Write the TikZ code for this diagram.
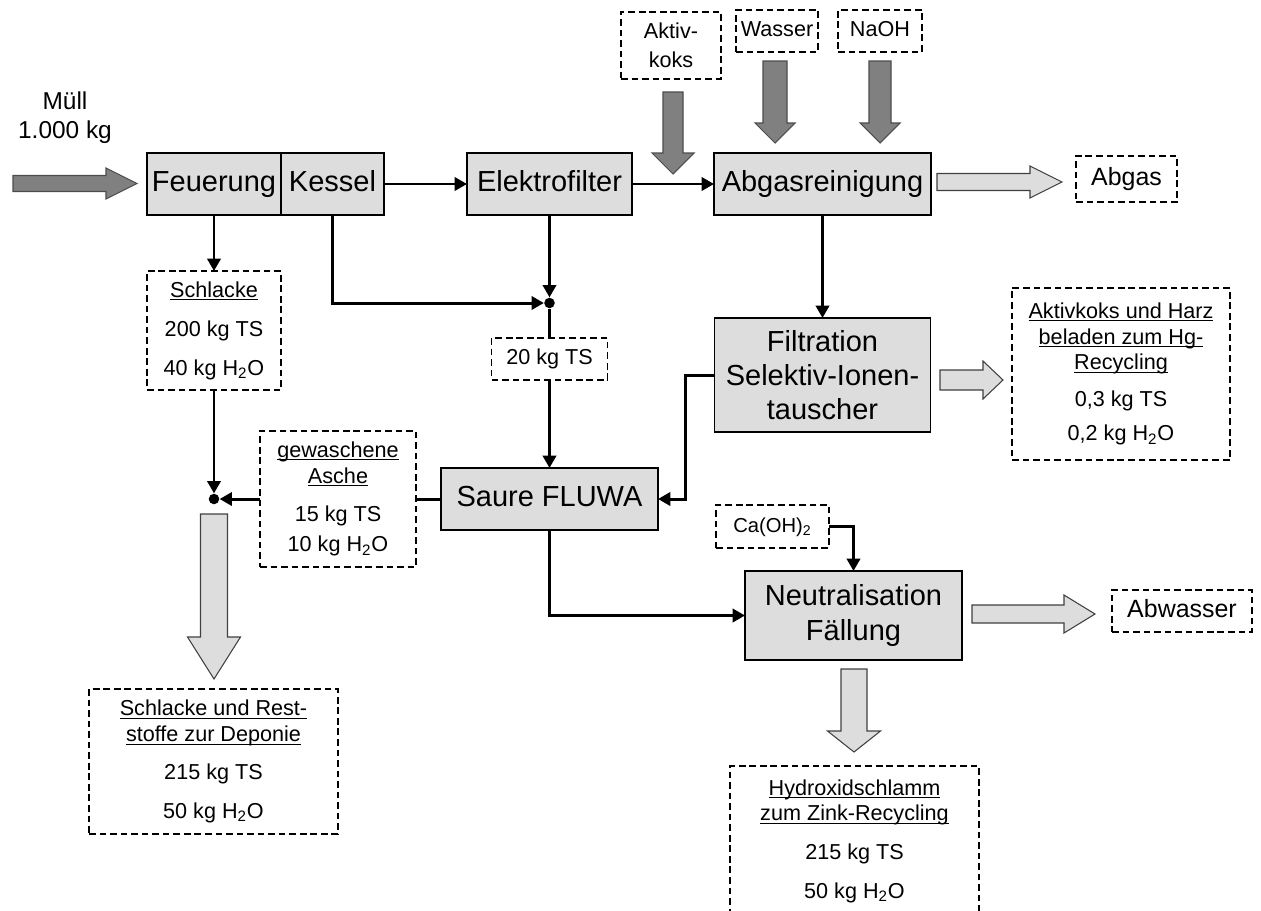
\documentclass[tikz,border=0pt]{standalone}
\usepackage{fontspec}
\setmainfont{Liberation Sans}
\usetikzlibrary{arrows.meta}
\definecolor{boxgray}{HTML}{DDDDDD}
\definecolor{arrowgray}{HTML}{808080}
\newcommand\hzo{H\textsubscript{2}O}
\newcommand\ulin[1]{\underline{\raisebox{0pt}[\height][0pt]{#1}}}
\newcommand\bigfont{\fontsize{16.5}{19.5}\selectfont}
\newcommand\smallfont{\fontsize{12.3}{14.7}\selectfont}
\newcommand\outfont{\fontsize{14.2}{17}\selectfont}
% fat arrows: style, start, head start, tip, axis, shaft half width, head half width
\newcommand\fatright[7]{\draw[#1] (#2,#5-#6) -- (#3,#5-#6) -- (#3,#5-#7) -- (#4,#5) -- (#3,#5+#7) -- (#3,#5+#6) -- (#2,#5+#6) -- cycle;}
\newcommand\fatdown[7]{\draw[#1] (#5-#6,#2) -- (#5-#6,#3) -- (#5-#7,#3) -- (#5,#4) -- (#5+#7,#3) -- (#5+#6,#3) -- (#5+#6,#2) -- cycle;}
\begin{document}
\begin{tikzpicture}[x=0.02cm, y=-0.02cm,
    proc/.style={draw, line width=0.8pt, fill=boxgray, inner sep=0pt, outer sep=0pt,
      align=center, minimum height=62*0.02cm, font=\bigfont},
    dashbox/.style={draw, line width=1.1pt, dash pattern=on 3.8pt off 2.2pt,
      inner sep=0pt, outer sep=0pt, align=center, font=\smallfont},
    bigrow/.style={text height=12pt, text depth=3.5pt},
    smallrow/.style={text height=9pt, text depth=2.6pt},
    outrow/.style={text height=10.4pt, text depth=3pt},
    dot/.style={circle, fill, inner sep=0pt, minimum size=6pt},
    conn/.style={line width=1.7pt, -{Triangle[length=7pt,width=7.5pt]}},
    plain/.style={line width=1.7pt},
    darkfat/.style={fill=arrowgray, draw=black!70, line width=0.6pt},
    lightfat/.style={fill=boxgray, draw=black!75, line width=0.6pt}]

  \useasboundingbox (0,0) rectangle (1261,910);

  \begin{scope}[every node/.style={proc}]
    \node[bigrow, minimum width=134*0.02cm] (feuer)  at (214,184)   {Feuerung};
    \node[bigrow, minimum width=103*0.02cm] (kessel) at (332.5,184) {Kessel};
    \node[bigrow, minimum width=165*0.02cm] (elek)   at (549.5,184) {Elektrofilter};
    \node[bigrow, minimum width=217*0.02cm] (abgasr) at (822.5,184) {Abgasreinigung};
    \node[minimum width=216*0.02cm, minimum height=114*0.02cm] (filt) at (822.5,375) {Filtration\\Selektiv-Ionen-\\tauscher};
    \node[bigrow, minimum width=217*0.02cm] (saure)  at (549.5,499) {Saure FLUWA};
    \node[minimum width=217*0.02cm, minimum height=89*0.02cm] (neut) at (853.5,615.5) {Neutralisation\\Fällung};
  \end{scope}

  \begin{scope}[every node/.style={dashbox}]
    \node[minimum width=100*0.02cm, minimum height=67*0.02cm] (aktiv)  at (671,45.5) {Aktiv-\\[1.7pt]koks};
    \node[smallrow, minimum width=82*0.02cm,  minimum height=42*0.02cm] (wasser) at (777,31)   {Wasser};
    \node[smallrow, minimum width=84*0.02cm,  minimum height=42*0.02cm] (naoh)   at (880,31)   {NaOH};
    \node[outrow, minimum width=101*0.02cm, minimum height=46*0.02cm, font=\outfont] (abgas) at (1126.5,179) {Abgas};
    \node[minimum width=134*0.02cm, minimum height=119*0.02cm] (schlacke) at (214,330.5)
      {\ulin{Schlacke}\\[7.5pt]200 kg TS\\[7.5pt]40 kg \hzo};
    \node[smallrow, minimum width=116*0.02cm, minimum height=42*0.02cm] (ts20) at (549.5,359) {20 kg TS};
    \node[minimum width=156*0.02cm, minimum height=136*0.02cm] (asche) at (338,499)
      {\ulin{gewaschene}\\\ulin{Asche}\\[7pt]15 kg TS\\[2.8pt]10 kg \hzo};
    \node[minimum width=218*0.02cm, minimum height=172*0.02cm] (hgrec) at (1121,374)
      {\ulin{Aktivkoks und Harz}\\\ulin{beladen zum Hg-}\\\ulin{Recycling}\\[6pt]0,3 kg TS\\[5pt]0,2 kg \hzo};
    \node[smallrow, minimum width=113*0.02cm, minimum height=43*0.02cm, font=\fontsize{11.5}{13.5}\selectfont] (caoh) at (772.5,526.5) {Ca(OH)\textsubscript{2}};
    \node[outrow, minimum width=140*0.02cm, minimum height=42*0.02cm, font=\outfont] (abwasser) at (1182,611) {Abwasser};
    \node[minimum width=249*0.02cm, minimum height=145*0.02cm] (deponie) at (213.5,761.5)
      {\ulin{Schlacke und Rest-}\\\ulin{stoffe zur Deponie}\\[7pt]215 kg TS\\[7.5pt]50 kg \hzo};
    \node[minimum width=249*0.02cm, minimum height=150*0.02cm] (hydrox) at (854.5,841)
      {\ulin{Hydroxidschlamm}\\\ulin{zum Zink-Recycling}\\[7pt]215 kg TS\\[7.5pt]50 kg \hzo};
  \end{scope}

  \node[align=center, font=\fontsize{13.9}{16.4}\selectfont] (muell) at (65,118) {Müll\\1.000 kg};

  \node[dot] (jA) at (549.5,303) {};
  \node[dot] (jB) at (214,499) {};

  \draw[conn] (kessel.east) -- (elek.west);
  \draw[conn] (elek.east) -- (abgasr.west);
  \draw[conn] (feuer.south) -- (schlacke.north);
  \draw[conn] (kessel.south) |- (jA);
  \draw[conn] (elek.south) -- (jA);
  \draw[plain] (jA) -- (ts20.north);
  \draw[conn] (ts20.south) -- (saure.north);
  \draw[conn] (abgasr.south) -- (filt.north);
  \draw[conn] (filt.west) -- ++(-29,0) |- (saure.east);
  \draw[plain] (saure.west) -- (asche.east);
  \draw[conn] (asche.west) -- (jB);
  \draw[conn] (schlacke.south) -- (jB);
  \draw[conn] (saure.south) |- (neut.west);
  \draw[conn] (caoh.east) -| (neut.north);

  \fatright{darkfat}{13}{106}{137}{183.5}{8}{15.5}
  \fatdown{darkfat}{92}{153}{174}{673}{10}{21}
  \fatdown{darkfat}{61}{123}{143}{775}{12}{20}
  \fatdown{darkfat}{61}{123}{143}{880}{11}{20}
  \fatright{lightfat}{937}{1030}{1062}{182}{8.5}{16}
  \fatright{lightfat}{940}{983}{1003}{380}{10}{19}
  \fatright{lightfat}{972}{1064}{1095}{614}{9}{19}
  \fatdown{lightfat}{514}{637}{679}{214}{13.5}{26.5}
  \fatdown{lightfat}{669}{731}{752}{854}{13}{26.5}

\end{tikzpicture}
\end{document}
